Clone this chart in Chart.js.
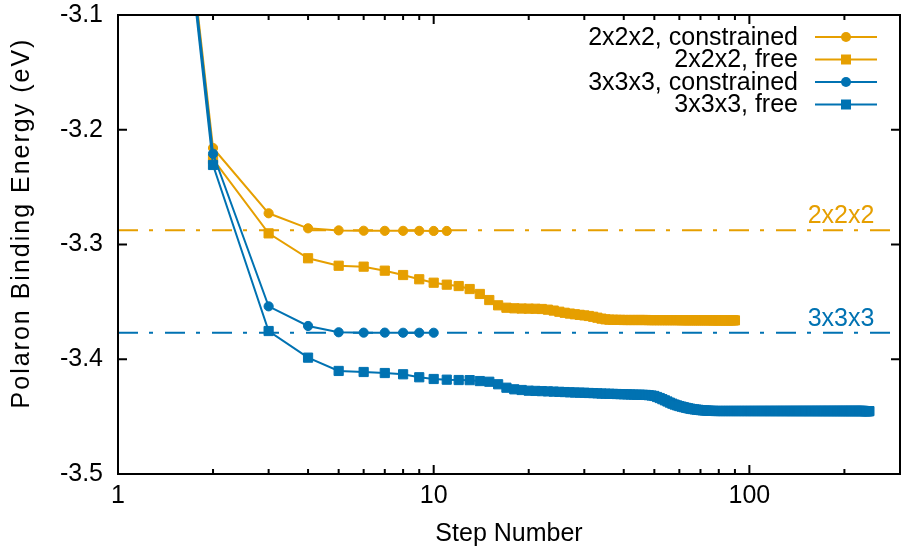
<!DOCTYPE html>
<html>
<head>
<meta charset="utf-8">
<script src="https://cdn.jsdelivr.net/npm/chart.js@4/dist/chart.umd.min.js"></script>
<style>
  html, body { margin: 0; padding: 0; background: #fff; }
  canvas { display: block; }
</style>
</head>
<body>
<canvas id="energyChart" width="901" height="550"></canvas>
<script>
const ORANGE = "#E69F00";
const BLUE = "#0072B2";
const FONT = "'Liberation Sans', Arial, sans-serif";

// Binding energy (eV) per optimisation step, starting at step 1
const e222Constrained = [
  -2.48, -3.2159, -3.2728, -3.2859, -3.2877, -3.2880, -3.2881, -3.2881, -3.2881, -3.2882,
  -3.2882,
];

const e222Free = [
  -2.48, -3.2255, -3.2903, -3.3120, -3.3185, -3.3193, -3.3228, -3.3266, -3.3303, -3.3333,
  -3.3350, -3.3362, -3.3388, -3.3431, -3.3484, -3.3530, -3.3551, -3.3556, -3.3558, -3.3559,
  -3.3560, -3.3562, -3.3568, -3.3576, -3.3586, -3.3595, -3.3602, -3.3608, -3.3613, -3.3618,
  -3.3623, -3.3630, -3.3638, -3.3646, -3.3652, -3.3655, -3.3656, -3.3657, -3.3657, -3.3658,
  -3.3658, -3.3658, -3.3658, -3.3658, -3.3658, -3.3658, -3.3658, -3.3659, -3.3659, -3.3659,
  -3.3659, -3.3659, -3.3659, -3.3659, -3.3659, -3.3659, -3.3659, -3.3659, -3.3659, -3.3659,
  -3.3660, -3.3660, -3.3660, -3.3660, -3.3660, -3.3660, -3.3660, -3.3660, -3.3660, -3.3660,
  -3.3660, -3.3660, -3.3660, -3.3660, -3.3660, -3.3661, -3.3661, -3.3661, -3.3661, -3.3661,
  -3.3661, -3.3661, -3.3661, -3.3661, -3.3661, -3.3661, -3.3661, -3.3661, -3.3661, -3.3661,
];

const e333Constrained = [
  -2.48, -3.2209, -3.3539, -3.3710, -3.3765, -3.3768, -3.3768, -3.3769, -3.3769, -3.3769,
];

const e333Free = [
  -2.48, -3.2307, -3.3754, -3.3986, -3.4102, -3.4111, -3.4120, -3.4131, -3.4157, -3.4172,
  -3.4178, -3.4181, -3.4182, -3.4190, -3.4196, -3.4218, -3.4248, -3.4262, -3.4268, -3.4274,
  -3.4276, -3.4278, -3.4280, -3.4282, -3.4284, -3.4286, -3.4288, -3.4290, -3.4291, -3.4292,
  -3.4294, -3.4295, -3.4297, -3.4299, -3.4300, -3.4301, -3.4302, -3.4303, -3.4304, -3.4305,
  -3.4306, -3.4307, -3.4308, -3.4309, -3.4309, -3.4310, -3.4311, -3.4313, -3.4316, -3.4320,
  -3.4329, -3.4338, -3.4348, -3.4358, -3.4368, -3.4378, -3.4387, -3.4395, -3.4402, -3.4408,
  -3.4413, -3.4418, -3.4423, -3.4427, -3.4431, -3.4434, -3.4437, -3.4439, -3.4441, -3.4443,
  -3.4445, -3.4446, -3.4447, -3.4448, -3.4449, -3.4450, -3.4450, -3.4451, -3.4451, -3.4451,
  -3.4451, -3.4451, -3.4451, -3.4451, -3.4451, -3.4451, -3.4451, -3.4451, -3.4451, -3.4451,
  -3.4451, -3.4451, -3.4451, -3.4451, -3.4451, -3.4451, -3.4451, -3.4451, -3.4451, -3.4451,
  -3.4451, -3.4451, -3.4451, -3.4451, -3.4451, -3.4451, -3.4451, -3.4451, -3.4451, -3.4451,
  -3.4451, -3.4451, -3.4451, -3.4451, -3.4451, -3.4451, -3.4451, -3.4451, -3.4451, -3.4451,
  -3.4451, -3.4451, -3.4451, -3.4451, -3.4451, -3.4451, -3.4451, -3.4451, -3.4451, -3.4451,
  -3.4451, -3.4451, -3.4451, -3.4451, -3.4451, -3.4451, -3.4451, -3.4451, -3.4451, -3.4451,
  -3.4451, -3.4451, -3.4451, -3.4451, -3.4451, -3.4451, -3.4451, -3.4451, -3.4451, -3.4451,
  -3.4451, -3.4451, -3.4451, -3.4451, -3.4451, -3.4451, -3.4451, -3.4451, -3.4451, -3.4451,
  -3.4451, -3.4451, -3.4451, -3.4451, -3.4451, -3.4451, -3.4451, -3.4451, -3.4451, -3.4451,
  -3.4451, -3.4451, -3.4451, -3.4451, -3.4451, -3.4451, -3.4451, -3.4451, -3.4451, -3.4451,
  -3.4451, -3.4451, -3.4451, -3.4451, -3.4451, -3.4451, -3.4451, -3.4451, -3.4451, -3.4451,
  -3.4451, -3.4451, -3.4451, -3.4451, -3.4451, -3.4451, -3.4451, -3.4451, -3.4451, -3.4451,
  -3.4451, -3.4451, -3.4451, -3.4451, -3.4451, -3.4451, -3.4451, -3.4451, -3.4451, -3.4451,
  -3.4451, -3.4451, -3.4451, -3.4451, -3.4451, -3.4451, -3.4451, -3.4451, -3.4451, -3.4451,
  -3.4451, -3.4451, -3.4451, -3.4451, -3.4451, -3.4451, -3.4451, -3.4451, -3.4451, -3.4451,
  -3.4451, -3.4452, -3.4452, -3.4452, -3.4452, -3.4452, -3.4452, -3.4452, -3.4452, -3.4452,
];

// Reference energies for each supercell
const refLabels = ["2x2x2", "3x3x3"];
const refEnergies = [-3.2876, -3.3770];

const xRange = [1, 300];
const xMajorTicks = [1, 10, 100];
const xMinorTicks = [2, 3, 4, 5, 6, 7, 8, 9, 20, 30, 40, 50, 60, 70, 80, 90, 200];
const yTicks = [-3.5, -3.4, -3.3, -3.2, -3.1];

const toPoints = (arr) => arr.map((y, i) => ({ x: i + 1, y }));

const series = [
  { label: "2x2x2, constrained", data: e222Constrained, color: ORANGE, marker: "circle" },
  { label: "2x2x2, free", data: e222Free, color: ORANGE, marker: "rect" },
  { label: "3x3x3, constrained", data: e333Constrained, color: BLUE, marker: "circle" },
  { label: "3x3x3, free", data: e333Free, color: BLUE, marker: "rect" },
];

const datasets = series.map((s, i) => ({
  label: s.label,
  data: toPoints(s.data),
  borderColor: s.color,
  backgroundColor: s.color,
  borderWidth: 2,
  pointStyle: s.marker,
  pointRadius: s.marker === "rect" ? 6.5 : 4.6,
  pointBorderWidth: 1,
  pointBorderColor: s.color,
  pointBackgroundColor: s.color,
  tension: 0,
  order: series.length - i,
}));

refEnergies.forEach((e, i) => {
  datasets.push({
    label: refLabels[i],
    data: [{ x: xRange[0], y: e }, { x: xRange[1], y: e }],
    borderColor: i === 0 ? ORANGE : BLUE,
    borderWidth: 2,
    borderDash: [20, 11, 4, 12],
    pointRadius: 0,
    order: 10 + i,
  });
});

// gnuplot-style frame with inward ticks, key and reference labels
const decorations = {
  id: "decorations",
  afterDraw(chart) {
    const { ctx, chartArea: a, scales } = chart;
    const xs = scales.x, ys = scales.y;
    ctx.save();
    ctx.strokeStyle = "#000";
    ctx.lineWidth = 2;
    ctx.beginPath();
    const major = 9, minor = 5;
    yTicks.forEach((v) => {
      const y = ys.getPixelForValue(v);
      ctx.moveTo(a.left, y); ctx.lineTo(a.left + major, y);
      ctx.moveTo(a.right, y); ctx.lineTo(a.right - major, y);
    });
    xMajorTicks.forEach((v) => {
      const x = xs.getPixelForValue(v);
      ctx.moveTo(x, a.bottom); ctx.lineTo(x, a.bottom - major);
      ctx.moveTo(x, a.top); ctx.lineTo(x, a.top + major);
    });
    xMinorTicks.forEach((v) => {
      const x = xs.getPixelForValue(v);
      ctx.moveTo(x, a.bottom); ctx.lineTo(x, a.bottom - minor);
      ctx.moveTo(x, a.top); ctx.lineTo(x, a.top + minor);
    });
    ctx.stroke();
    ctx.strokeRect(a.left, a.top, a.right - a.left, a.bottom - a.top);

    // key
    ctx.font = `25px ${FONT}`;
    ctx.textBaseline = "middle";
    ctx.textAlign = "right";
    const rowY = [37, 59.5, 82, 104.5];
    series.forEach((s, i) => {
      const y = rowY[i];
      ctx.fillStyle = "#000";
      ctx.fillText(s.label, 798, y + 1);
      ctx.strokeStyle = s.color;
      ctx.lineWidth = 2;
      ctx.beginPath();
      ctx.moveTo(815, y); ctx.lineTo(877, y);
      ctx.stroke();
      ctx.fillStyle = s.color;
      ctx.beginPath();
      if (s.marker === "circle") ctx.arc(846, y, 5, 0, Math.PI * 2);
      else ctx.rect(841, y - 5, 10, 10);
      ctx.fill();
    });

    // reference line labels
    ctx.textAlign = "center";
    refEnergies.forEach((e, i) => {
      ctx.fillStyle = i === 0 ? ORANGE : BLUE;
      ctx.fillText(refLabels[i], 841, ys.getPixelForValue(e) - 14);
    });

    // y axis title
    ctx.fillStyle = "#000";
    ctx.translate(22, 223);
    ctx.rotate(-Math.PI / 2);
    ctx.letterSpacing = "2px";
    ctx.fillText("Polaron Binding Energy (eV)", 0, 0);
    ctx.restore();
  },
};

const tickFont = { family: FONT, size: 25 };

new Chart(document.getElementById("energyChart"), {
  type: "line",
  data: { datasets },
  options: {
    responsive: false,
    animation: false,
    layout: { autoPadding: false, padding: { top: 15, right: 1, left: 0, bottom: 0 } },
    scales: {
      x: {
        type: "logarithmic",
        min: xRange[0],
        max: xRange[1],
        grid: { display: false, drawTicks: false },
        border: { display: false },
        afterBuildTicks: (s) => { s.ticks = xMajorTicks.map((v) => ({ value: v })); },
        afterFit: (s) => {
          s.height = 76;
          s.paddingLeft = 0;
          s.paddingRight = 0;
        },
        ticks: {
          font: tickFont, color: "#000", padding: 7,
          autoSkip: false, maxRotation: 0,
          callback: (v) => String(v),
        },
        title: {
          display: true, text: "Step Number", color: "#000",
          font: tickFont, padding: { top: 0, bottom: 1 },
        },
      },
      y: {
        min: -3.5,
        max: -3.1,
        grid: { display: false, drawTicks: false },
        border: { display: false },
        afterBuildTicks: (s) => { s.ticks = yTicks.map((v) => ({ value: v })); },
        afterFit: (s) => {
          s.width = 118;
          s.paddingTop = 0;
          s.paddingBottom = 0;
        },
        ticks: {
          font: tickFont, color: "#000", padding: 15,
          callback: (v) => v.toFixed(1),
        },
      },
    },
    plugins: {
      legend: { display: false },
      tooltip: { enabled: false },
    },
  },
  plugins: [decorations],
});
</script>
</body>
</html>
